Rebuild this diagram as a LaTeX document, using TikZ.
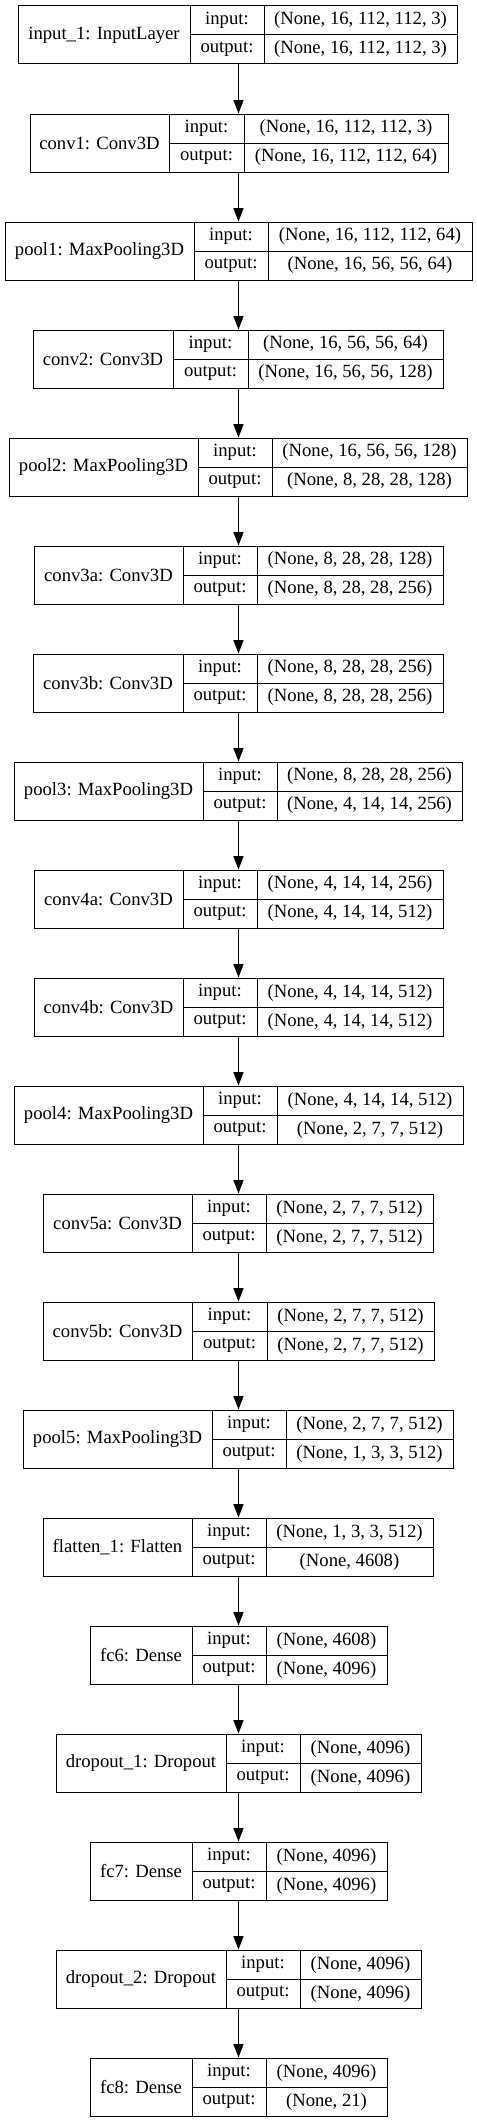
\documentclass[tikz,border=0pt]{standalone}
\usepackage{fontspec}
\setmainfont{Liberation Serif}
\usetikzlibrary{arrows.meta}

% one layer record: id, top, left, split1, split2, right, name, input, output
\newcommand{\netlayer}[9]{%
  \node [cell, minimum width={(#4-#3)*0.75pt}, minimum height=43.5pt] (#1) at ({(#3+#4)/2}, {#2+29}) {#7};
  \node [cell, minimum width={(#5-#4)*0.75pt}] (#1-ik) at ({(#4+#5)/2}, {#2+14.5}) {input:};
  \node [cell, minimum width={(#5-#4)*0.75pt}] (#1-ok) at ({(#4+#5)/2}, {#2+43.5}) {output:};
  \node [cell, minimum width={(#6-#5)*0.75pt}] (#1-iv) at ({(#5+#6)/2}, {#2+14.5}) {#8};
  \node [cell, minimum width={(#6-#5)*0.75pt}] (#1-ov) at ({(#5+#6)/2}, {#2+43.5}) {#9};
}

\begin{document}
\begin{tikzpicture}[x=0.75pt, y=-0.75pt,
    cell/.style={draw, rectangle, inner sep=0pt, minimum height=21.75pt, line width=0.75pt},
    >={Triangle[length=10pt, width=7.5pt]},
    font=\fontsize{14}{16}\selectfont]
        \useasboundingbox (0, 0) rectangle (477, 2123);
        \coordinate (axis) at (238.5, 0);

        % Layers
        \netlayer{input1}{6}{18}{190}{264}{457}{input\_1: InputLayer}{(None, 16, 112, 112, 3)}{(None, 16, 112, 112, 3)}
        \netlayer{conv1}{114}{30}{169}{244}{448}{conv1: Conv3D}{(None, 16, 112, 112, 3)}{(None, 16, 112, 112, 64)}
        \netlayer{pool1}{222}{5}{194}{268}{472}{pool1: MaxPooling3D}{(None, 16, 112, 112, 64)}{(None, 16, 56, 56, 64)}
        \netlayer{conv2}{330}{33}{173}{248}{443}{conv2: Conv3D}{(None, 16, 56, 56, 64)}{(None, 16, 56, 56, 128)}
        \netlayer{pool2}{438}{9}{198}{272}{467}{pool2: MaxPooling3D}{(None, 16, 56, 56, 128)}{(None, 8, 28, 28, 128)}
        \netlayer{conv3a}{546}{34}{183}{257}{443}{conv3a: Conv3D}{(None, 8, 28, 28, 128)}{(None, 8, 28, 28, 256)}
        \netlayer{conv3b}{654}{33}{183}{257}{443}{conv3b: Conv3D}{(None, 8, 28, 28, 256)}{(None, 8, 28, 28, 256)}
        \netlayer{pool3}{762}{14}{203}{277}{462}{pool3: MaxPooling3D}{(None, 8, 28, 28, 256)}{(None, 4, 14, 14, 256)}
        \netlayer{conv4a}{870}{34}{183}{257}{443}{conv4a: Conv3D}{(None, 4, 14, 14, 256)}{(None, 4, 14, 14, 512)}
        \netlayer{conv4b}{978}{34}{183}{257}{443}{conv4b: Conv3D}{(None, 4, 14, 14, 512)}{(None, 4, 14, 14, 512)}
        \netlayer{pool4}{1086}{14}{203}{277}{463}{pool4: MaxPooling3D}{(None, 4, 14, 14, 512)}{(None, 2, 7, 7, 512)}
        \netlayer{conv5a}{1194}{43}{192}{266}{433}{conv5a: Conv3D}{(None, 2, 7, 7, 512)}{(None, 2, 7, 7, 512)}
        \netlayer{conv5b}{1302}{43}{192}{267}{434}{conv5b: Conv3D}{(None, 2, 7, 7, 512)}{(None, 2, 7, 7, 512)}
        \netlayer{pool5}{1410}{23}{212}{286}{453}{pool5: MaxPooling3D}{(None, 2, 7, 7, 512)}{(None, 1, 3, 3, 512)}
        \netlayer{flatten1}{1518}{43}{192}{266}{433}{flatten\_1: Flatten}{(None, 1, 3, 3, 512)}{(None, 4608)}
        \netlayer{fc6}{1626}{90}{192}{266}{387}{fc6: Dense}{(None, 4608)}{(None, 4096)}
        \netlayer{dropout1}{1734}{56}{226}{300}{421}{dropout\_1: Dropout}{(None, 4096)}{(None, 4096)}
        \netlayer{fc7}{1842}{90}{192}{266}{387}{fc7: Dense}{(None, 4096)}{(None, 4096)}
        \netlayer{dropout2}{1950}{56}{226}{300}{421}{dropout\_2: Dropout}{(None, 4096)}{(None, 4096)}
        \netlayer{fc8}{2058}{90}{192}{266}{387}{fc8: Dense}{(None, 4096)}{(None, 21)}

        % Edges
        \draw[->, line width=0.75pt] (input1-ok.south -| axis) -- (conv1-ik.north -| axis);
        \draw[->, line width=0.75pt] (conv1-ok.south -| axis) -- (pool1-ik.north -| axis);
        \draw[->, line width=0.75pt] (pool1-ok.south -| axis) -- (conv2-ik.north -| axis);
        \draw[->, line width=0.75pt] (conv2-ok.south -| axis) -- (pool2-ik.north -| axis);
        \draw[->, line width=0.75pt] (pool2-ok.south -| axis) -- (conv3a-ik.north -| axis);
        \draw[->, line width=0.75pt] (conv3a-ok.south -| axis) -- (conv3b-ik.north -| axis);
        \draw[->, line width=0.75pt] (conv3b-ok.south -| axis) -- (pool3-ik.north -| axis);
        \draw[->, line width=0.75pt] (pool3-ok.south -| axis) -- (conv4a-ik.north -| axis);
        \draw[->, line width=0.75pt] (conv4a-ok.south -| axis) -- (conv4b-ik.north -| axis);
        \draw[->, line width=0.75pt] (conv4b-ok.south -| axis) -- (pool4-ik.north -| axis);
        \draw[->, line width=0.75pt] (pool4-ok.south -| axis) -- (conv5a-ik.north -| axis);
        \draw[->, line width=0.75pt] (conv5a-ok.south -| axis) -- (conv5b-ik.north -| axis);
        \draw[->, line width=0.75pt] (conv5b-ok.south -| axis) -- (pool5-ik.north -| axis);
        \draw[->, line width=0.75pt] (pool5-ok.south -| axis) -- (flatten1-ik.north -| axis);
        \draw[->, line width=0.75pt] (flatten1-ok.south -| axis) -- (fc6-ik.north -| axis);
        \draw[->, line width=0.75pt] (fc6-ok.south -| axis) -- (dropout1-ik.north -| axis);
        \draw[->, line width=0.75pt] (dropout1-ok.south -| axis) -- (fc7-ik.north -| axis);
        \draw[->, line width=0.75pt] (fc7-ok.south -| axis) -- (dropout2-ik.north -| axis);
        \draw[->, line width=0.75pt] (dropout2-ok.south -| axis) -- (fc8-ik.north -| axis);
\end{tikzpicture}
\end{document}
